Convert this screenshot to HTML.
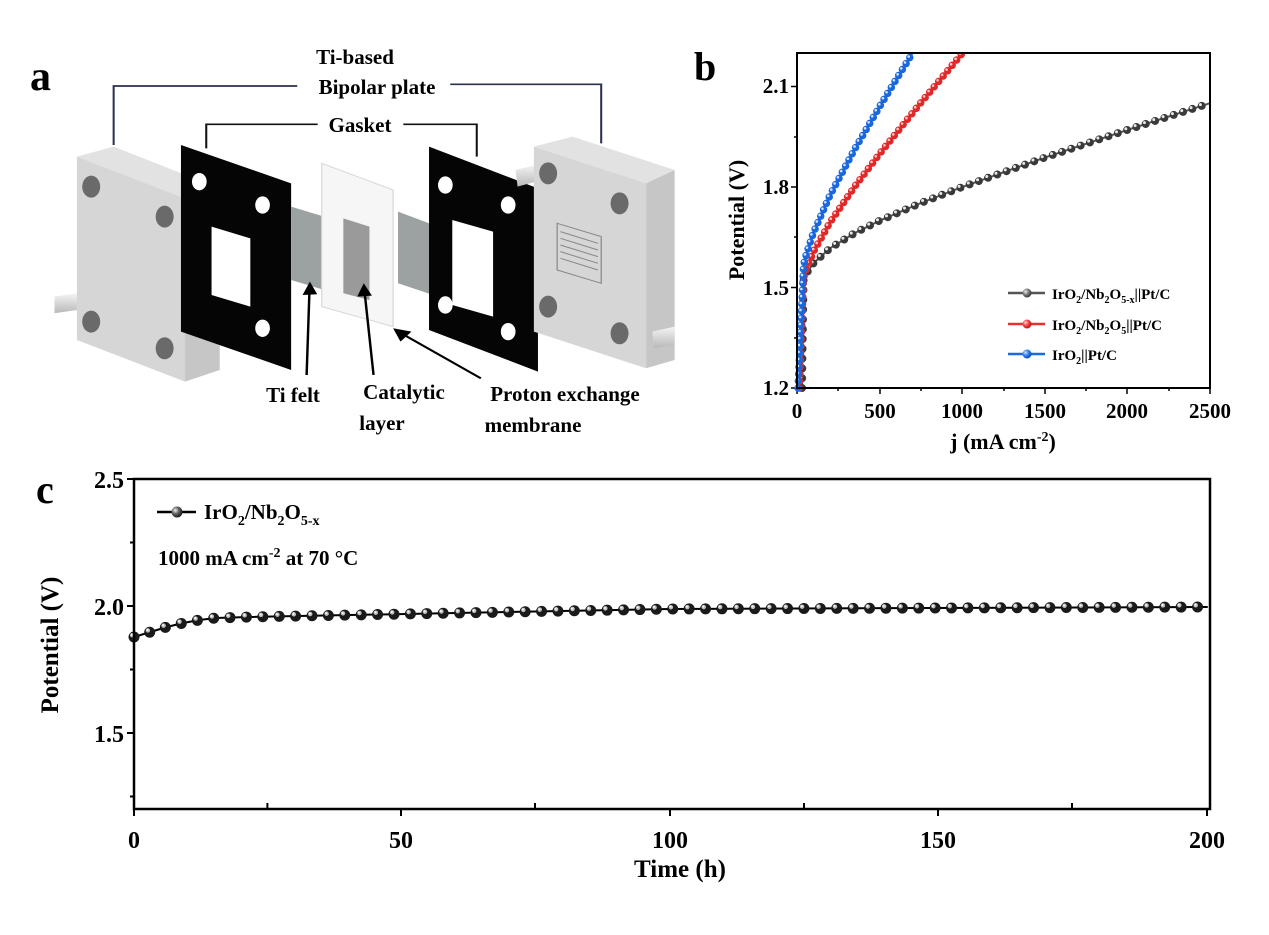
<!DOCTYPE html>
<html><head><meta charset="utf-8">
<style>
html,body{margin:0;padding:0;background:#fff;}
svg{display:block;font-family:"Liberation Serif",serif;font-weight:bold;}
</style></head>
<body>
<svg width="1269" height="935" viewBox="0 0 1269 935" xmlns="http://www.w3.org/2000/svg">
<defs>
<radialGradient id="gk" cx="0.35" cy="0.35" r="0.7"><stop offset="0" stop-color="#f4f4f4"/><stop offset="0.45" stop-color="#666"/><stop offset="1" stop-color="#111"/></radialGradient>
<radialGradient id="gg" cx="0.35" cy="0.35" r="0.7"><stop offset="0" stop-color="#eee"/><stop offset="0.5" stop-color="#777"/><stop offset="1" stop-color="#333"/></radialGradient>
<radialGradient id="gr" cx="0.35" cy="0.35" r="0.7"><stop offset="0" stop-color="#ffd0d0"/><stop offset="0.5" stop-color="#f04040"/><stop offset="1" stop-color="#c01010"/></radialGradient>
<radialGradient id="gb" cx="0.35" cy="0.35" r="0.7"><stop offset="0" stop-color="#d0e4ff"/><stop offset="0.5" stop-color="#2a7cf0"/><stop offset="1" stop-color="#0a4ab0"/></radialGradient>
<linearGradient id="pipe" x1="0" y1="0" x2="0" y2="1"><stop offset="0" stop-color="#f4f4f4"/><stop offset="1" stop-color="#b8b8b8"/></linearGradient>
<clipPath id="cb"><rect x="790" y="53" width="422" height="340"/></clipPath>
</defs>

<!-- Panel a -->
<text x="30" y="90" font-size="42">a</text>
<g transform="translate(30,30) scale(0.408,0.3333)">
 <polygon points="60,800 115,790 115,840 60,850" fill="url(#pipe)"/>
 <polygon points="115,380 205,350 465,475 380,505" fill="#e2e2e2"/>
 <polygon points="380,505 465,475 465,1020 380,1055" fill="#c6c6c6"/>
 <polygon points="115,380 380,505 380,1055 115,930" fill="#d6d6d6"/>
 <ellipse cx="150" cy="470" rx="22" ry="33" fill="#6a6a6a"/>
 <ellipse cx="330" cy="560" rx="22" ry="33" fill="#6a6a6a"/>
 <ellipse cx="150" cy="875" rx="22" ry="33" fill="#6a6a6a"/>
 <ellipse cx="330" cy="955" rx="22" ry="33" fill="#6a6a6a"/>
 <polygon points="400,590 455,580 465,625 410,640" fill="url(#pipe)"/>
 <polygon points="370,345 640,460 640,1020 370,905" fill="#050505"/>
 <polygon points="445,590 540,625 540,830 445,795" fill="#fff"/>
 <ellipse cx="415" cy="455" rx="18" ry="26" fill="#fff"/>
 <ellipse cx="570" cy="525" rx="18" ry="26" fill="#fff"/>
 <ellipse cx="570" cy="895" rx="18" ry="26" fill="#fff"/>
 <polygon points="640,530 748,570 748,790 640,750" fill="#9ca2a2"/>
 <polygon points="715,400 890,480 890,890 715,830" fill="#f6f6f6" stroke="#d8d8d8" stroke-width="3"/>
 <polygon points="768,565 832,590 832,810 768,790" fill="#9a9a9a"/>
 <polygon points="902,545 1000,590 1000,800 902,760" fill="#9ca2a2"/>
 <polygon points="978,350 1245,475 1245,1025 978,900" fill="#050505"/>
 <polygon points="1035,570 1135,605 1135,860 1035,825" fill="#fff"/>
 <ellipse cx="1018" cy="465" rx="18" ry="26" fill="#fff"/>
 <ellipse cx="1172" cy="525" rx="18" ry="26" fill="#fff"/>
 <ellipse cx="1018" cy="825" rx="18" ry="26" fill="#fff"/>
 <ellipse cx="1172" cy="905" rx="18" ry="26" fill="#fff"/>
 <polygon points="1190,420 1240,405 1240,455 1195,470" fill="url(#pipe)"/>
 <polygon points="1235,350 1330,320 1580,420 1510,460" fill="#e2e2e2"/>
 <polygon points="1510,460 1580,420 1580,990 1510,1015" fill="#c6c6c6"/>
 <polygon points="1235,350 1510,460 1510,1015 1235,905" fill="#d6d6d6"/>
 <ellipse cx="1270" cy="430" rx="22" ry="33" fill="#6a6a6a"/>
 <ellipse cx="1445" cy="520" rx="22" ry="33" fill="#6a6a6a"/>
 <ellipse cx="1270" cy="830" rx="22" ry="33" fill="#6a6a6a"/>
 <ellipse cx="1445" cy="910" rx="22" ry="33" fill="#6a6a6a"/>
 <g stroke="#888" stroke-width="3" fill="none">
  <polygon points="1292,580 1400,620 1400,760 1292,720"/>
  <line x1="1300" y1="605" x2="1392" y2="640"/><line x1="1300" y1="625" x2="1392" y2="660"/>
  <line x1="1300" y1="645" x2="1392" y2="680"/><line x1="1300" y1="665" x2="1392" y2="700"/>
  <line x1="1300" y1="685" x2="1392" y2="720"/>
 </g>
 <polygon points="1525,905 1580,890 1580,945 1530,955" fill="url(#pipe)"/>
 <polyline points="205,345 205,168 655,168" fill="none" stroke="#2a3050" stroke-width="5"/>
 <polyline points="1030,163 1400,163 1400,340" fill="none" stroke="#2a3050" stroke-width="5"/>
 <polyline points="432,355 432,283 705,283" fill="none" stroke="#111" stroke-width="5"/>
 <polyline points="915,283 1095,283 1095,380" fill="none" stroke="#111" stroke-width="5"/>
 <g stroke="#000" stroke-width="6">
  <line x1="678" y1="1035" x2="685" y2="780"/>
  <line x1="842" y1="1035" x2="820" y2="785"/>
  <line x1="1105" y1="1045" x2="910" y2="910"/>
 </g>
 <polygon points="686,755 668,795 704,793" fill="#000"/>
 <polygon points="818,760 802,800 838,797" fill="#000"/>
 <polygon points="890,895 908,935 935,905" fill="#000"/>
</g>
<g font-size="21" text-anchor="middle">
 <text x="355" y="64">Ti-based</text>
 <text x="377" y="94">Bipolar plate</text>
 <text x="360" y="132">Gasket</text>
 <text x="293" y="402">Ti felt</text>
 <text x="404" y="399">Catalytic</text>
 <text x="382" y="430">layer</text>
 <text x="565" y="401">Proton exchange</text>
 <text x="533" y="432">membrane</text>
</g>

<!-- Panel b -->
<text x="694" y="80" font-size="40">b</text>
<g stroke="#000" stroke-width="1.5">
 <line x1="791" y1="388" x2="797" y2="388"/><line x1="794" y1="338" x2="797" y2="338"/>
 <line x1="791" y1="287.5" x2="797" y2="287.5"/><line x1="794" y1="237" x2="797" y2="237"/>
 <line x1="791" y1="187" x2="797" y2="187"/><line x1="794" y1="137" x2="797" y2="137"/>
 <line x1="791" y1="86.5" x2="797" y2="86.5"/>
 <line x1="797" y1="388" x2="797" y2="394"/><line x1="838" y1="388" x2="838" y2="391"/>
 <line x1="880" y1="388" x2="880" y2="394"/><line x1="921" y1="388" x2="921" y2="391"/>
 <line x1="962" y1="388" x2="962" y2="394"/><line x1="1004" y1="388" x2="1004" y2="391"/>
 <line x1="1045" y1="388" x2="1045" y2="394"/><line x1="1086" y1="388" x2="1086" y2="391"/>
 <line x1="1127" y1="388" x2="1127" y2="394"/><line x1="1169" y1="388" x2="1169" y2="391"/>
 <line x1="1210" y1="388" x2="1210" y2="394"/>
</g>
<g clip-path="url(#cb)" fill="none" stroke-linecap="round">
 <path d="M802,388 L803.6,279.5 L806.9,272.6 L813.5,263.2 L830,248.3 L854.8,233 L879.6,220.7 L920.9,203 L962.2,187 L1044.8,157.6 L1127.4,129.9 L1210,103.2" stroke="#555" stroke-width="2"/>
 <path d="M802,388 L803.6,279.5 L806.9,272.6 L813.5,263.2 L830,248.3 L854.8,233 L879.6,220.7 L920.9,203 L962.2,187 L1044.8,157.6 L1127.4,129.9 L1210,103.2" stroke="#3a3a3a" stroke-width="8" stroke-dasharray="0 9.8"/>
 <path transform="translate(-1.3,-1.3)" d="M802,388 L803.6,279.5 L806.9,272.6 L813.5,263.2 L830,248.3 L854.8,233 L879.6,220.7 L920.9,203 L962.2,187 L1044.8,157.6 L1127.4,129.9 L1210,103.2" stroke="#e8e8e8" stroke-width="3" stroke-dasharray="0 9.8"/>

 <path d="M799.3,388 L803.6,277.7 L806.9,267.4 L813.5,251.7 L830,222.4 L854.8,186.4 L879.6,153.8 L920.9,102.6 L962.2,53.4" stroke="#e83030" stroke-width="2"/>
 <path d="M799.3,388 L803.6,277.7 L806.9,267.4 L813.5,251.7 L830,222.4 L854.8,186.4 L879.6,153.8 L920.9,102.6 L962.2,53.4" stroke="#e02828" stroke-width="7.5" stroke-dasharray="0 7"/>
 <path transform="translate(-1.1,-1.1)" d="M799.3,388 L803.6,277.7 L806.9,267.4 L813.5,251.7 L830,222.4 L854.8,186.4 L879.6,153.8 L920.9,102.6 L962.2,53.4" stroke="#ffc8c8" stroke-width="2.6" stroke-dasharray="0 7"/>

 <path d="M798,388 L803.6,265 L806.9,252.2 L813.5,232.5 L830,195.2 L854.8,148.9 L879.6,106.6 L896.1,79.6 L912.6,53.1" stroke="#1a6ae0" stroke-width="2"/>
 <path d="M798,388 L803.6,265 L806.9,252.2 L813.5,232.5 L830,195.2 L854.8,148.9 L879.6,106.6 L896.1,79.6 L912.6,53.1" stroke="#1a66dd" stroke-width="7.5" stroke-dasharray="0 7"/>
 <path transform="translate(-1.1,-1.1)" d="M798,388 L803.6,265 L806.9,252.2 L813.5,232.5 L830,195.2 L854.8,148.9 L879.6,106.6 L896.1,79.6 L912.6,53.1" stroke="#cfe2ff" stroke-width="2.6" stroke-dasharray="0 7"/>
</g>
<rect x="797" y="53" width="413" height="335" fill="none" stroke="#000" stroke-width="2"/>
<g font-size="21" text-anchor="end">
 <text x="789" y="395">1.2</text><text x="789" y="295">1.5</text><text x="789" y="194">1.8</text><text x="789" y="93">2.1</text>
</g>
<g font-size="21" text-anchor="middle">
 <text x="797" y="418">0</text><text x="880" y="418">500</text><text x="962" y="418">1000</text>
 <text x="1045" y="418">1500</text><text x="1127" y="418">2000</text><text x="1210" y="418">2500</text>
</g>
<text x="1003" y="449" font-size="22" text-anchor="middle">j (mA cm<tspan dy="-8" font-size="14">-2</tspan><tspan dy="8">)</tspan></text>
<text transform="translate(744,220) rotate(-90)" font-size="22" text-anchor="middle">Potential (V)</text>
<g font-size="15">
 <line x1="1008" y1="293" x2="1045" y2="293" stroke="#555" stroke-width="2.5"/><circle cx="1027" cy="293" r="4.5" fill="url(#gg)"/>
 <text x="1052" y="299">IrO<tspan font-size="10" dy="4">2</tspan><tspan dy="-4">/Nb</tspan><tspan font-size="10" dy="4">2</tspan><tspan dy="-4">O</tspan><tspan font-size="10" dy="4">5-x</tspan><tspan dy="-4">||Pt/C</tspan></text>
 <line x1="1008" y1="324" x2="1045" y2="324" stroke="#e83030" stroke-width="2.5"/><circle cx="1027" cy="324" r="4.5" fill="url(#gr)"/>
 <text x="1052" y="330">IrO<tspan font-size="10" dy="4">2</tspan><tspan dy="-4">/Nb</tspan><tspan font-size="10" dy="4">2</tspan><tspan dy="-4">O</tspan><tspan font-size="10" dy="4">5</tspan><tspan dy="-4">||Pt/C</tspan></text>
 <line x1="1008" y1="354" x2="1045" y2="354" stroke="#1a6ae0" stroke-width="2.5"/><circle cx="1027" cy="354" r="4.5" fill="url(#gb)"/>
 <text x="1052" y="360">IrO<tspan font-size="10" dy="4">2</tspan><tspan dy="-4">||Pt/C</tspan></text>
</g>

<!-- Panel c -->
<text x="36" y="503" font-size="40">c</text>
<g stroke="#000" stroke-width="2">
 <line x1="127" y1="479" x2="134" y2="479"/><line x1="130" y1="542.5" x2="134" y2="542.5"/>
 <line x1="127" y1="606" x2="134" y2="606"/><line x1="130" y1="669.5" x2="134" y2="669.5"/>
 <line x1="127" y1="733" x2="134" y2="733"/><line x1="130" y1="796.5" x2="134" y2="796.5"/>
 <line x1="134" y1="809" x2="134" y2="816"/><line x1="267.4" y1="809" x2="267.4" y2="803"/>
 <line x1="401" y1="809" x2="401" y2="816"/><line x1="535" y1="809" x2="535" y2="803"/>
 <line x1="670" y1="809" x2="670" y2="816"/><line x1="804" y1="809" x2="804" y2="803"/>
 <line x1="938" y1="809" x2="938" y2="816"/><line x1="1072" y1="809" x2="1072" y2="803"/>
 <line x1="1207" y1="809" x2="1207" y2="816"/>
</g>
<g fill="none" stroke-linecap="round">
 <path d="M134,637 L150.4,632 L166.7,627 L183.1,623 L199.4,620 L215.8,618 L232.2,617.5 L248.5,617 L456,613 L670,609 L1207,607" stroke="#000" stroke-width="2"/>
 <path d="M134,637 L150.4,632 L166.7,627 L183.1,623 L199.4,620 L215.8,618 L232.2,617.5 L248.5,617 L456,613 L670,609 L1207,607" stroke="#1a1a1a" stroke-width="11" stroke-dasharray="0 16.4"/>
 <path transform="translate(-1.8,-1.8)" d="M134,637 L150.4,632 L166.7,627 L183.1,623 L199.4,620 L215.8,618 L232.2,617.5 L248.5,617 L456,613 L670,609 L1207,607" stroke="#bdbdbd" stroke-width="4.5" stroke-dasharray="0 16.4"/>
 <path transform="translate(-2.2,-2.2)" d="M134,637 L150.4,632 L166.7,627 L183.1,623 L199.4,620 L215.8,618 L232.2,617.5 L248.5,617 L456,613 L670,609 L1207,607" stroke="#f8f8f8" stroke-width="2" stroke-dasharray="0 16.4"/>
</g>
<rect x="134" y="479" width="1076" height="330" fill="none" stroke="#000" stroke-width="2.5"/>
<g font-size="24" text-anchor="end">
 <text x="124" y="488">2.5</text><text x="124" y="615">2.0</text><text x="124" y="742">1.5</text>
</g>
<g font-size="24" text-anchor="middle">
 <text x="134" y="848">0</text><text x="401" y="848">50</text><text x="670" y="848">100</text>
 <text x="938" y="848">150</text><text x="1207" y="848">200</text>
</g>
<text x="680" y="877" font-size="25" text-anchor="middle">Time (h)</text>
<text transform="translate(58,645) rotate(-90)" font-size="25" text-anchor="middle">Potential (V)</text>
<line x1="157" y1="512" x2="196" y2="512" stroke="#000" stroke-width="2.5"/><circle cx="177" cy="512" r="5.5" fill="url(#gk)"/>
<text x="204" y="519" font-size="21">IrO<tspan font-size="14" dy="6">2</tspan><tspan dy="-6">/Nb</tspan><tspan font-size="14" dy="6">2</tspan><tspan dy="-6">O</tspan><tspan font-size="14" dy="6">5-x</tspan></text>
<text x="158" y="565" font-size="21">1000 mA cm<tspan font-size="14" dy="-8">-2</tspan><tspan dy="8"> at 70 °C</tspan></text>
</svg>
</body></html>
